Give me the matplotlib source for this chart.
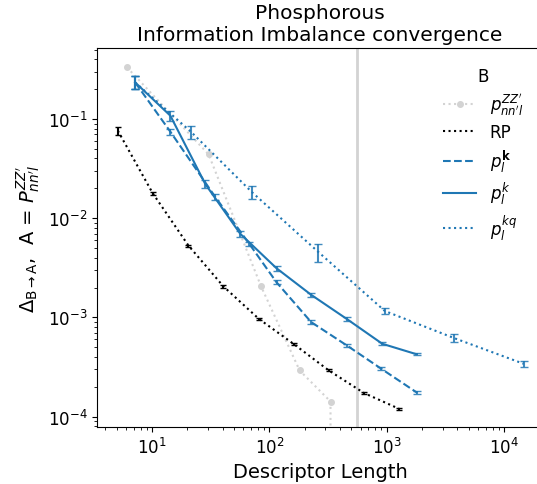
import matplotlib
matplotlib.use("Agg")
import matplotlib.pyplot as plt

# p_nn'l^ZZ' (grey, last point is zero -> dropped off the log axis)
zz_x = [6.1, 30.3, 85, 181, 332, 660]
zz_y = [0.332, 0.044, 0.00205, 2.92e-4, 1.42e-4, 0.0]

# random projection
rp_x = [5.1, 10.1, 20.4, 40.6, 81, 161, 321, 640, 1274]
rp_y = [0.0762, 0.0179, 0.0053, 0.00205, 9.7e-4, 5.4e-4, 2.92e-4, 1.73e-4, 1.2e-4]
rp_e = [0.0074, 0.0006, 0.00012, 0.00005, 0.00002, 0.000012, 0.000007, 0.000004, 0.000003]

# p_l^k (bold k, dashed)
kb_x = [7.16, 14.3, 34.5, 67.4, 115, 227, 455, 902, 1820]
kb_y = [0.234, 0.0745, 0.0164, 0.00551, 0.00226, 8.97e-4, 5.24e-4, 3.03e-4, 1.74e-4]
kb_e = [0.035, 0.0054, 0.0012, 0.00026, 0.0001, 0.00004, 0.000018, 0.000011, 0.000006]

# p_l^k (solid)
k_x = [7.16, 14.3, 28.4, 56.5, 115, 227, 455, 918, 1803]
k_y = [0.234, 0.108, 0.0221, 0.00695, 0.00313, 0.00169, 9.68e-4, 5.42e-4, 4.25e-4]
k_e = [0.035, 0.013, 0.0021, 0.0005, 0.00019, 0.00008, 0.000045, 0.000019, 0.00001]

# p_l^kq (dotted)
kq_x = [7.16, 21.4, 71, 259, 966, 3758, 14720]
kq_y = [0.234, 0.0745, 0.0183, 0.00461, 0.00116, 6.19e-4, 3.41e-4]
kq_e = [0.035, 0.011, 0.0027, 0.00095, 0.00007, 0.00006, 0.000025]

vline_x = 555

blue = "tab:blue"

fig = plt.figure(figsize=(5.37, 4.85), dpi=100)
ax = fig.add_axes([0.181, 0.118, 0.83, 0.781])   # right spine falls just off the canvas

ax.axvline(vline_x, color="lightgray", lw=2)

ax.plot(zz_x, zz_y, ":", color="lightgray", marker="o", ms=4, lw=1.5,
        label=r"$p_{nn'l}^{ZZ'}$")

ax.plot(rp_x, rp_y, ":", color="black", lw=1.5, label="RP")
ax.errorbar(rp_x, rp_y, yerr=rp_e, fmt="none", ecolor="black", capsize=2.5, elinewidth=1.5)

ax.plot(kb_x, kb_y, "--", color=blue, lw=1.5, label=r"$p_l^{\mathbf{k}}$")
ax.errorbar(kb_x, kb_y, yerr=kb_e, fmt="none", ecolor=blue, alpha=0.85, capsize=3, elinewidth=1.5)

ax.plot(k_x, k_y, "-", color=blue, lw=1.5, label=r"$p_l^{k}$")
ax.errorbar(k_x, k_y, yerr=k_e, fmt="none", ecolor=blue, alpha=0.85, capsize=3, elinewidth=1.5)

ax.plot(kq_x, kq_y, ":", color=blue, lw=1.5, label=r"$p_l^{kq}$")
ax.errorbar(kq_x, kq_y, yerr=kq_e, fmt="none", ecolor=blue, alpha=0.85, capsize=3, elinewidth=1.5)

ax.set_xscale("log")
ax.set_yscale("log")
ax.set_xlim(3.4, 21500)
ax.set_ylim(7.9e-5, 0.52)

ax.tick_params(labelsize=12)
ax.set_xlabel("Descriptor Length", fontsize=14)
ax.set_ylabel(r"$\Delta_{\rm B\rightarrow A}$,  A = $P_{nn'l}^{ZZ'}$", fontsize=14)
ax.set_title("Phosphorous\nInformation Imbalance convergence", fontsize=14.5)

leg = ax.legend(title="B", frameon=False, fontsize=12, title_fontsize=12,
                loc="upper right", bbox_to_anchor=(0.99, 0.99), labelspacing=0.38)

fig.savefig("out.png", dpi=100)
